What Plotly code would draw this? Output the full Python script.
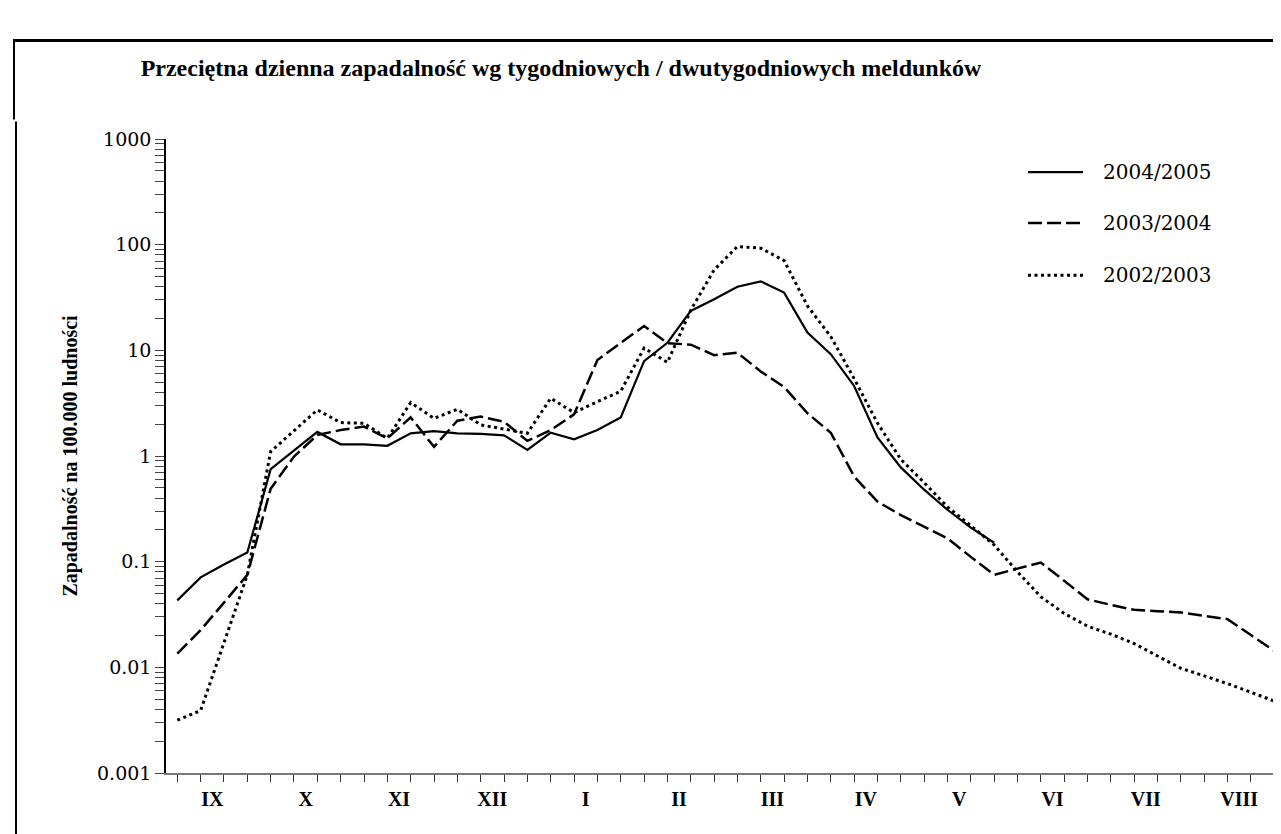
import plotly.graph_objects as go

# ---- data ----
weeks = list(range(48))
months = ["IX", "X", "XI", "XII", "I", "II", "III", "IV", "V", "VI", "VII", "VIII"]
month_pos = [4 * m + 1.5 for m in range(12)]

s_2004_2005 = [0.043, 0.071, 0.094, 0.122, 0.75, 1.12, 1.69, 1.29, 1.29, 1.25,
               1.64, 1.72, 1.64, 1.62, 1.57, 1.14, 1.66, 1.44, 1.76, 2.32,
               7.9, 11.8, 23.6, 30.5, 40, 45, 35.2, 14.7, 9.2, 4.6,
               1.5, 0.78, 0.48, 0.31, 0.21, 0.151]
s_2003_2004 = [0.0135, 0.0225, 0.041, 0.075, 0.49, 0.99, 1.58, 1.76, 1.9, 1.47,
               2.32, 1.22, 2.16, 2.36, 2.11, 1.39, 1.76, 2.48, 8.1, 11.8,
               17, 11.7, 11.3, 9.0, 9.5, 6.3, 4.5, 2.54, 1.66, 0.64,
               0.37, 0.276, 0.214, 0.166, 0.111, 0.075, 0.086, 0.098, 0.066, 0.044,
               0.039, 0.035, 0.034, 0.033, 0.0307, 0.0286, 0.0202, 0.0143]
s_2002_2003 = [0.00316, 0.0039, 0.0171, 0.075, 1.1, 1.74, 2.73, 2.07, 2.04, 1.47,
               3.2, 2.27, 2.77, 1.97, 1.79, 1.64, 3.52, 2.57, 3.27, 4.1,
               10.5, 7.7, 24, 57.7, 96, 92.7, 70.7, 26.3, 13.5, 5.4,
               2.05, 0.93, 0.56, 0.33, 0.219, 0.144, 0.08, 0.0465, 0.0324, 0.0245,
               0.0206, 0.0168, 0.0128, 0.0098, 0.0083, 0.0070, 0.0058, 0.0048]

series_names = ["2004/2005", "2003/2004", "2002/2003"]
y_tick_labels = ["0.001", "0.01", "0.1", "1", "10", "100", "1000"]

title_text = "Przeciętna dzienna zapadalność wg tygodniowych / dwutygodniowych meldunków"
ytitle_text = "Zapadalność na 100.000 ludności"

# ---- geometry (page pixels; the page body has an 8px margin) ----
OFF = 8
W, H = 1281 - OFF, 834 - OFF
L = 166 - OFF
T = 138.6 - OFF
B = H - (773 - OFF)
R = 0
pw, ph = W - L - R, H - T - B

def px_x(p):  # page pixel -> paper x
    return (p - OFF - L) / pw

def px_y(p):  # page pixel -> paper y
    return (H - B - (p - OFF)) / ph

styles = [
    dict(color="black", width=2.2, dash="solid"),
    dict(color="black", width=2.5, dash="14px,5px"),
    dict(color="black", width=3, dash="3px,3.5px"),
]

fig = go.Figure()
for name, ys, st in zip(series_names, [s_2004_2005, s_2003_2004, s_2002_2003], styles):
    fig.add_trace(go.Scatter(x=weeks[:len(ys)], y=ys, mode="lines", name=name,
                             line=st, showlegend=False))

# y ticks: decades labelled, intermediate unlabelled
yvals, ytext = [], []
for e in range(-3, 4):
    for k in range(1, 10):
        if e == 3 and k > 1:
            break
        yvals.append(k * 10 ** e)
        ytext.append(y_tick_labels[e + 3] if k == 1 else "")

fig.update_layout(
    width=W, height=H,
    margin=dict(l=L, r=R, t=T, b=B, pad=0),
    plot_bgcolor="white", paper_bgcolor="white",
    title=dict(text=title_text, x=(561 - OFF) / W, xanchor="center",
               y=1 - (68 - OFF) / H, yanchor="middle",
               font=dict(family="Liberation Serif", size=24, color="black", weight="bold")),
    xaxis=dict(range=[-0.484, 47.29], showgrid=False, zeroline=False,
               showline=True, linecolor="#777777", linewidth=2,
               tickmode="array", tickvals=month_pos, ticktext=months, ticks="",
               ticklabelstandoff=7,
               tickfont=dict(family="Liberation Serif", size=20, color="black", weight="bold"),
               minor=dict(tickmode="array", tickvals=weeks, ticks="outside", ticklen=7,
                          tickwidth=1.3, tickcolor="#333333")),
    yaxis=dict(type="log", range=[-3, 3], showgrid=False, zeroline=False,
               showline=True, linecolor="black", linewidth=1.5,
               tickmode="array", tickvals=yvals, ticktext=ytext,
               ticks="outside", ticklen=9, tickwidth=1.3, tickcolor="#444444",
               tickfont=dict(family="DejaVu Serif", size=19, color="black"),
               title=dict(text=ytitle_text, standoff=14,
                          font=dict(family="Liberation Serif", size=20, color="black", weight="bold"))),
)

# custom legend
leg_rows = [171.7, 222.7, 275.0]
for name, st, yy in zip(series_names, styles, leg_rows):
    fig.add_shape(type="line", xref="paper", yref="paper",
                  x0=px_x(1028), x1=px_x(1083), y0=px_y(yy), y1=px_y(yy),
                  line=dict(color="black", width=st["width"], dash=st["dash"]))
    fig.add_annotation(xref="paper", yref="paper", x=px_x(1101), y=px_y(yy),
                       xanchor="left", yanchor="middle", text=name, showarrow=False,
                       font=dict(family="DejaVu Serif", size=20, color="black"))

# outer frame (top edge and left edge with a small step)
fig.add_shape(type="line", xref="paper", yref="paper", x0=px_x(13), x1=px_x(1290),
              y0=px_y(40), y1=px_y(40), line=dict(color="black", width=3))
fig.add_shape(type="line", xref="paper", yref="paper", x0=px_x(14), x1=px_x(14),
              y0=px_y(40), y1=px_y(119), line=dict(color="black", width=2))
fig.add_shape(type="line", xref="paper", yref="paper", x0=px_x(16), x1=px_x(16),
              y0=px_y(121), y1=px_y(840), line=dict(color="black", width=2))

fig.write_html("out.html")
